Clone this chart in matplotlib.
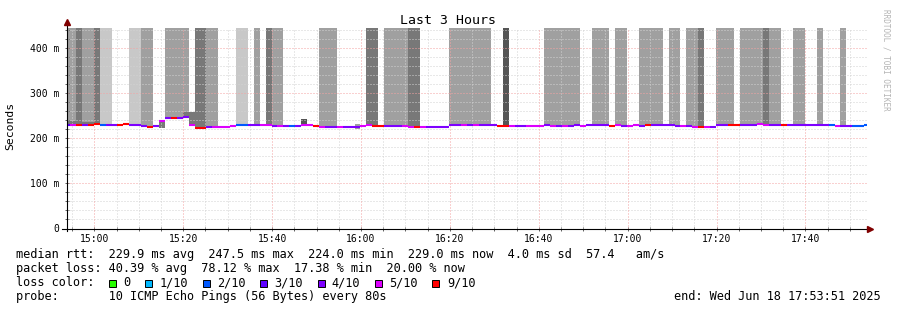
import matplotlib

matplotlib.use("Agg")
import matplotlib.pyplot as plt
import numpy as np

# graph window: 14:53:51 .. 17:53:51, x in seconds from the window start
WINDOW_S = 10800
STEP_S = 80
FIRST_STEP_S = -38.5
Y_TOP = 445.5

# smoke shade per 80s step (0 none, 1 light, 2 medium, 3 dark, 4 darkest)
SHADE = [
    2, 2, 3, 2, 2, 3, 1, 1, 0, 0, 0, 1, 1, 2, 2, 0, 0, 2, 2, 2,
    2, 0, 3, 3, 2, 2, 0, 0, 0, 1, 1, 0, 2, 0, 3, 2, 2, 0, 0, 0,
    0, 0, 0, 2, 2, 2, 0, 0, 0, 0, 0, 3, 3, 0, 2, 2, 2, 2, 3, 3,
    0, 0, 0, 0, 0, 2, 2, 2, 2, 2, 2, 2, 0, 0, 4, 0, 0, 0, 0, 0,
    0, 2, 2, 2, 2, 2, 2, 0, 0, 2, 2, 2, 0, 2, 2, 0, 0, 2, 2, 2,
    2, 0, 2, 2, 0, 2, 2, 3, 0, 0, 2, 2, 2, 0, 2, 2, 2, 2, 3, 2,
    2, 0, 0, 2, 2, 0, 0, 2, 0, 0, 0, 2, 0, 0, 0, 0,
]

# median rtt per step (ms)
MEDIAN = [
    231, 229, 229, 229, 230, 233, 231, 230, 230, 231, 232, 231, 229, 227, 225.5, 227, 239, 245, 245, 245,
    247.5, 229, 224, 224, 225, 225, 225, 225, 227, 230, 230, 230, 230, 229, 229, 228, 228, 227.5, 227.5, 227.5,
    229, 229, 228, 225.5, 225.5, 225.5, 224.5, 225.5, 225.5, 225.5, 228, 229, 228, 228, 228, 228.5, 228.5, 228.5, 225.5, 225.5,
    225.5, 225.5, 225.5, 225.5, 225.5, 229, 231, 231, 230, 230, 231, 231, 230, 228, 228, 228, 228, 228, 228, 228,
    228, 229, 228, 228.5, 228.5, 228, 229, 228, 230, 231, 231, 229, 228, 229, 228, 228, 229, 228.5, 229, 229,
    229, 229, 229, 228, 228, 228, 226, 226, 225.5, 225.5, 229, 231, 231, 231, 231, 231, 231, 232, 231, 231,
    231, 231, 231, 231, 231, 231, 231, 231, 231, 229, 228, 228, 228, 228, 228, 229,
]

# lost pings out of 10 per step (6 and up drawn as 9/10)
LOSS = [
    3, 5, 6, 4, 6, 6, 2, 4, 4, 6, 6, 4, 4, 4, 6, 4, 5, 4, 6, 4,
    4, 5, 6, 6, 4, 5, 5, 5, 5, 2, 2, 4, 4, 5, 5, 4, 5, 4, 2, 4,
    5, 5, 6, 5, 4, 4, 5, 4, 4, 4, 5, 5, 6, 6, 4, 4, 4, 5, 5, 6,
    5, 4, 4, 4, 4, 4, 4, 5, 4, 5, 4, 4, 4, 6, 6, 5, 4, 4, 5, 5,
    5, 4, 5, 4, 5, 4, 4, 5, 4, 4, 4, 4, 6, 5, 4, 5, 5, 4, 6, 4,
    4, 4, 4, 4, 5, 4, 5, 6, 5, 4, 4, 4, 6, 6, 4, 4, 4, 5, 5, 4,
    4, 6, 4, 4, 4, 4, 4, 4, 4, 2, 5, 4, 4, 2, 2, 2,
]

# extra smoke close to the median: (step, low ms, high ms, shade)
SMOKE_LOW = [
    (0, 231, 239, 3), (1, 229, 239, 3), (2, 229, 238, 3), (3, 229, 237, 3), (4, 230, 237, 3),
    (16, 224, 242, 3), (20, 247, 258, 3), (21, 229, 258, 3), (40, 229, 244, 4),
    (49, 222, 233, 2), (72, 228, 233, 2),
]

LOSS_COLORS = {0: "#26ff00", 1: "#00b8ff", 2: "#0059ff", 3: "#5e00ff",
               4: "#7e00ff", 5: "#dd00ff", 6: "#ff0000"}
SHADE_COLORS = {1: "#c8c8c8", 2: "#a0a0a0", 3: "#787878", 4: "#555555"}

X_TICKS_S = [369, 1569, 2769, 3969, 5169, 6369, 7569, 8769, 9969]
X_TICK_LABELS = ["15:00", "15:20", "15:40", "16:00", "16:20", "16:40", "17:00", "17:20", "17:40"]
Y_TICKS = [0, 100, 200, 300, 400]
Y_TICK_LABELS = ["0", "100 m", "200 m", "300 m", "400 m"]

LEGEND_LABELS = ["0", "1/10", "2/10", "3/10", "4/10", "5/10", "9/10"]
LEGEND_KEYS = [0, 1, 2, 3, 4, 5, 6]
LEGEND_COLS = [13, 18, 26, 34, 42, 50, 58]

LINE_RTT = "median rtt:  229.9 ms avg  247.5 ms max  224.0 ms min  229.0 ms now  4.0 ms sd  57.4   am/s"
LINE_LOSS = "packet loss: 40.39 % avg  78.12 % max  17.38 % min  20.00 % now"
LINE_PROBE = "probe:       10 ICMP Echo Pings (56 Bytes) every 80s"
END_TEXT = "end: Wed Jun 18 17:53:51 2025"

MONO = "DejaVu Sans Mono"
W, H = 897, 310


def fx(px):
    return px / W


def fy(py):
    return 1 - py / H


fig = plt.figure(figsize=(W / 100, H / 100), dpi=100)
fig.patch.set_facecolor("white")
ax = fig.add_axes([fx(67), fy(228.5), 800 / W, 200.5 / H])
ax.set_xlim(0, WINDOW_S)
ax.set_ylim(0, Y_TOP)

lefts = FIRST_STEP_S + STEP_S * np.arange(len(MEDIAN))

# smoke
for left, shade, med in zip(lefts, SHADE, MEDIAN):
    if shade:
        ax.bar(left, Y_TOP - med, width=STEP_S, bottom=med, align="edge",
               color=SHADE_COLORS[shade], linewidth=0, zorder=1)
for step, lo, hi, shade in SMOKE_LOW:
    ax.bar(lefts[step], hi - lo, width=STEP_S, bottom=lo, align="edge",
           color=SHADE_COLORS[shade], linewidth=0, zorder=1)

# grid drawn over the smoke like rrdtool does
GRID_MINOR = "#d2d2d2"
GRID_MAJOR = "#f5a3a3"
for y in range(20, int(Y_TOP), 20):
    ax.axhline(y, color=GRID_MAJOR if y % 100 == 0 else GRID_MINOR, lw=0.72,
               ls=(0, (1, 2)), zorder=2)
for t in range(69, WINDOW_S, 300):
    ax.axvline(t, color=GRID_MAJOR if t in X_TICKS_S else GRID_MINOR, lw=0.72,
               ls=(0, (1, 2)), zorder=2)

# median line coloured by loss
for left, med, loss in zip(lefts, MEDIAN, LOSS):
    ax.hlines(med, left, left + STEP_S, color=LOSS_COLORS[loss], lw=1.5, zorder=3)

for spine in ax.spines.values():
    spine.set_visible(False)
ax.plot([0, 0], [-0.01, 1.03], color="black", lw=0.8, transform=ax.transAxes, clip_on=False, zorder=4)
ax.plot([-0.006, 1.003], [0, 0], color="black", lw=0.8, transform=ax.transAxes, clip_on=False, zorder=4)
ax.plot(0, 1.03, marker="^", color="#800000", ms=4, transform=ax.transAxes, clip_on=False, zorder=5)
ax.plot(1.004, 0, marker=">", color="#800000", ms=4, transform=ax.transAxes, clip_on=False, zorder=5)

ax.set_xticks(X_TICKS_S)
ax.set_xticklabels(X_TICK_LABELS, fontsize=7, family=MONO)
ax.set_xticks(range(69, WINDOW_S, 300), minor=True)
ax.set_yticks(Y_TICKS)
ax.set_yticklabels(Y_TICK_LABELS, fontsize=7, family=MONO)
ax.set_yticks(range(0, int(Y_TOP), 20), minor=True)
ax.tick_params(which="both", direction="inout", length=3, width=0.7, color="#606060")
ax.tick_params(axis="x", which="both", pad=2.5)
ax.tick_params(axis="y", which="both", pad=4)

fig.text(fx(448), fy(20), "Last 3 Hours", ha="center", va="center", fontsize=9.5, family=MONO)
fig.text(fx(10), fy(126), "Seconds", rotation=90, ha="center", va="center", fontsize=8.2, family=MONO)
fig.text(fx(886), fy(60), "RRDTOOL / TOBI OETIKER", rotation=270, ha="center", va="center",
         fontsize=5.5, family=MONO, color="#b4b4b4")

CW = 7.18
fig.text(fx(16), fy(258), LINE_RTT, ha="left", va="baseline", fontsize=8.6, family=MONO)
fig.text(fx(16), fy(272), LINE_LOSS, ha="left", va="baseline", fontsize=8.6, family=MONO)
fig.text(fx(16), fy(286), "loss color:", ha="left", va="baseline", fontsize=8.6, family=MONO)
for key, label, col in zip(LEGEND_KEYS, LEGEND_LABELS, LEGEND_COLS):
    x0 = 16 + col * CW
    fig.patches.append(plt.Rectangle((fx(x0), fy(286.5)), 7 / W, 7 / H, transform=fig.transFigure,
                                     facecolor=LOSS_COLORS[key], edgecolor="black", lw=0.7))
    fig.text(fx(16 + (col + 2) * CW), fy(286), label, ha="left", va="baseline", fontsize=8.6, family=MONO)
fig.text(fx(16), fy(300), LINE_PROBE, ha="left", va="baseline", fontsize=8.6, family=MONO)
fig.text(fx(881), fy(300), END_TEXT, ha="right", va="baseline", fontsize=8.6, family=MONO)

fig.savefig("out.png", dpi=100)
